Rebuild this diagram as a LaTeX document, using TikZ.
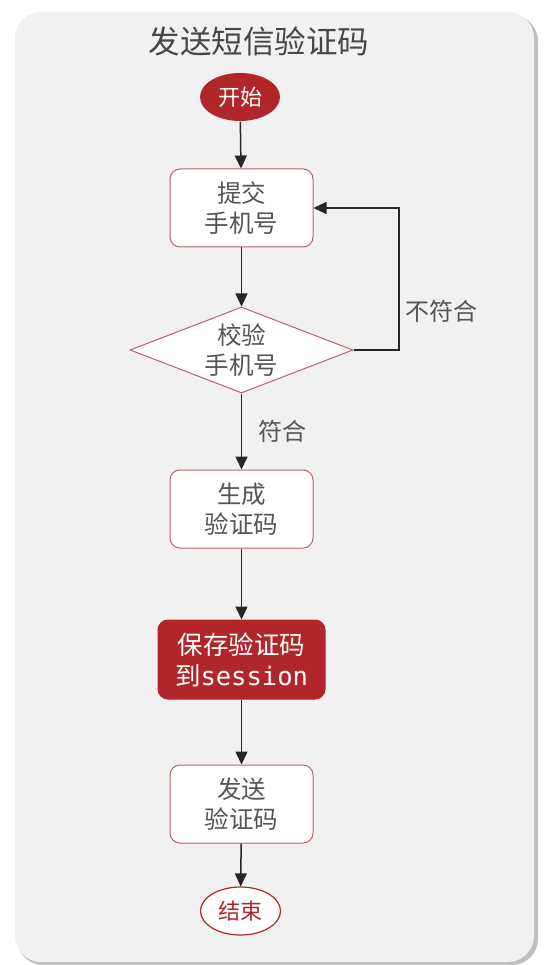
\documentclass[tikz,border=0pt]{standalone}
\usepackage{fontspec}
\setmainfont{Noto Sans CJK SC}
\newfontfamily\monof{DejaVu Sans Mono}
\usetikzlibrary{shapes.geometric,arrows.meta}
\definecolor{panel}{HTML}{F1F1F1}
\definecolor{darkred}{HTML}{B1262B}
\definecolor{edgered}{HTML}{B8656A}
\definecolor{txt}{HTML}{555555}
\tikzset{
  box/.style={draw=edgered,line width=1pt,fill=white,rounded corners=10pt,minimum width=143pt,minimum height=78pt,align=center,text=txt,font=\fontsize{24.5}{30}\selectfont},
  redbox/.style={box,fill=darkred,draw=darkred,text=white,minimum width=167pt,minimum height=79pt,font=\fontsize{25.5}{31}\selectfont},
  dec/.style={draw=edgered,line width=1pt,fill=white,diamond,aspect=2.6,minimum width=223pt,minimum height=86pt,inner sep=0pt,align=center,text=txt,font=\fontsize{24.5}{30}\selectfont},
  term/.style={ellipse,minimum width=80pt,minimum height=48pt,inner sep=0pt,line width=1.2pt,font=\fontsize{22}{24}\selectfont},
  arr/.style={-{Triangle[length=13pt,width=12pt]},line width=1.5pt,black!85},
  lbl/.style={text=txt,font=\fontsize{24}{26}\selectfont}
}
\begin{document}
\begin{tikzpicture}[x=1pt,y=-1pt]
\useasboundingbox (0,0) rectangle (554,965);
\fill[white] (0,0) rectangle (554,965);
\fill[black!25,rounded corners=26pt] (17,15) rectangle (538,965);
\fill[panel,rounded corners=26pt] (15,12) rectangle (534,962);
\node[text=black!72,font=\fontsize{31.5}{36}\selectfont] (title) at (259,41) {发送短信验证码};
\node[term,fill=darkred,text=white] (start) at (240,97) {开始};
\node[box] (b1) at (241.5,208) {提交\\手机号};
\node[dec] (d1) at (241.5,350) {校验\\手机号};
\node[box] (b2) at (241.5,509) {生成\\验证码};
\node[redbox] (b3) at (241.5,659.5) {保存验证码\\到{\monof session}};
\node[box] (b4) at (241.5,804) {发送\\验证码};
\node[term,draw=darkred,fill=white,text=darkred] (end) at (240.5,911) {结束};
\coordinate (c1) at (399,350);
\coordinate (c2) at (399,208);
\draw[arr] (start) -- (b1);
\draw[arr] (b1) -- (d1);
\draw[arr] (d1) -- node[lbl,right,xshift=13pt] (yes) {符合} (b2);
\draw[arr] (b2) -- (b3);
\draw[arr] (b3) -- (b4);
\draw[arr] (b4) -- (end);
\draw[arr] (d1.east) -- (c1) -- (c2) -- (b1.east);
\node[lbl] (no) at (441,311) {不符合};
\end{tikzpicture}
\end{document}
